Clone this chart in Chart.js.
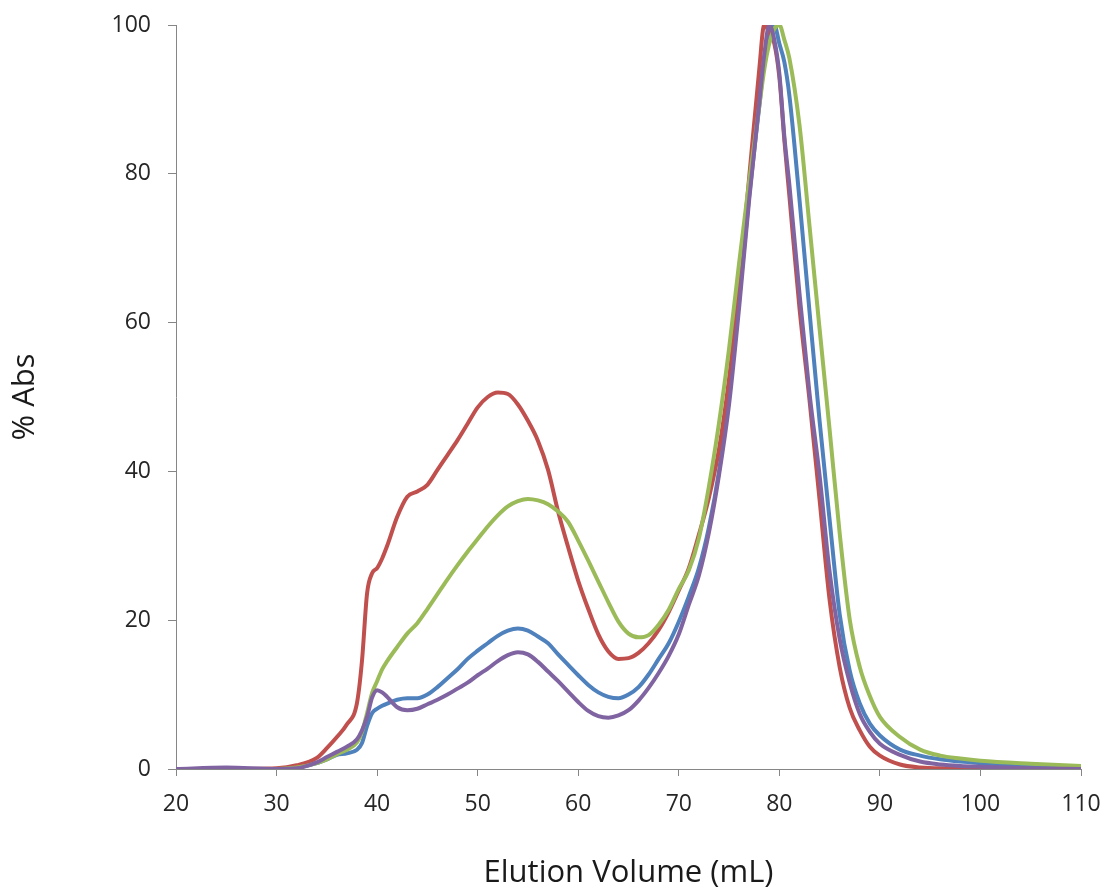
<!DOCTYPE html>
<html>
<head>
<meta charset="utf-8">
<title>Elution profile</title>
<script src="https://cdn.jsdelivr.net/npm/chart.js@4"></script>
<style>
  html, body { margin: 0; padding: 0; background: #fff; }
  #caja { width: 1106px; height: 892px; position: relative; }
</style>
</head>
<body>
<div id="caja"><canvas id="grafico"></canvas></div>
<script>
/*DATOS*/
const elution = [20, 25, 30, 32, 34, 35, 36, 37, 38, 38.5, 39, 39.5, 40, 40.5, 41,
  42, 43, 44, 45, 46, 47, 48, 49, 50, 51, 52, 53, 54, 55, 56, 57, 58, 59, 60,
  61, 62, 63, 64, 65, 66, 67, 68, 69, 70, 71, 72, 73, 74, 75, 76, 77, 78,
  78.5, 79, 79.5, 80, 80.5, 81, 82, 83, 84, 85, 86, 87, 88, 89, 90,
  92, 94, 96, 98, 100, 105, 110]

const absRed = [0, 0, 0.1, 0.5, 1.5, 2.8, 4.3, 6.0, 8.9, 14.6, 23.6, 26.3, 27.0, 28.3, 30.0,
  33.9, 36.6, 37.3, 38.2, 40.2, 42.2, 44.2, 46.4, 48.6, 50.0, 50.6, 50.4, 49.0, 46.8, 44.1, 40.2, 34.6, 29.8, 25.3,
  21.5, 18.1, 15.8, 14.8, 14.9, 15.6, 16.9, 18.7, 21.1, 24.0, 27.0, 31.5, 36.5, 43.0, 52.5, 65.0, 79.5, 94.0,
  100, 99.0, 97.5, 93.0, 84.5, 77.0, 62.0, 49.6, 36.2, 22.7, 13.7, 8.2, 5.2, 3.0, 1.8,
  0.6, 0.2, 0.1, 0.1, 0.05, 0, 0]

const absGreen = [0, 0, 0, 0.2, 0.8, 1.3, 2.0, 2.6, 3.6, 5.0, 7.5, 10.2, 11.8, 13.4, 14.5,
  16.4, 18.2, 19.6, 21.5, 23.5, 25.5, 27.4, 29.2, 30.9, 32.6, 34.1, 35.3, 36.0, 36.3, 36.1, 35.6, 34.6, 33.2, 30.7,
  28.0, 25.2, 22.4, 19.8, 18.2, 17.7, 18.0, 19.4, 21.4, 24.2, 26.7, 31.0, 38.0, 46.5, 56.5, 68.0, 79.0, 89.0,
  94.0, 97.5, 99.5, 100, 98.0, 95.5, 86.6, 73.0, 59.2, 45.6, 31.7, 20.1, 13.7, 9.8, 7.0,
  4.3, 2.6, 1.8, 1.4, 1.1, 0.7, 0.4]

const absBlue = [0, 0, 0, 0.2, 0.8, 1.3, 1.9, 2.1, 2.6, 3.5, 5.8, 7.5, 8.1, 8.5, 8.8,
  9.3, 9.5, 9.5, 10.0, 11.0, 12.2, 13.4, 14.8, 15.9, 16.9, 17.9, 18.6, 18.9, 18.6, 17.8, 16.9, 15.4, 14.0, 12.6,
  11.3, 10.3, 9.7, 9.5, 10.0, 11.0, 12.7, 14.8, 16.9, 19.8, 23.2, 27.0, 32.5, 40.0, 50.5, 63.0, 77.0, 89.0,
  95.0, 98.5, 100, 97.5, 95.0, 90.5, 76.6, 61.5, 46.8, 33.5, 20.8, 13.2, 8.8, 6.1, 4.5,
  2.6, 1.8, 1.3, 1.0, 0.8, 0.4, 0.2]

const absPurple = [0, 0.2, 0, 0.1, 0.9, 1.6, 2.3, 3.0, 4.0, 5.2, 7.0, 9.6, 10.6, 10.3, 9.7,
  8.3, 7.9, 8.1, 8.7, 9.3, 10.0, 10.8, 11.6, 12.6, 13.5, 14.5, 15.3, 15.7, 15.4, 14.4, 13.1, 11.8, 10.4, 9.0,
  7.8, 7.1, 6.9, 7.2, 7.9, 9.2, 10.9, 12.9, 15.2, 18.1, 22.1, 26.0, 31.8, 39.5, 49.0, 62.0, 76.5, 89.5,
  96.0, 100, 98.0, 93.5, 85.0, 78.5, 64.0, 50.5, 39.5, 26.5, 17.5, 11.6, 7.4, 5.0, 3.4,
  1.9, 1.0, 0.6, 0.4, 0.3, 0.1, 0]

const xTicks = [20, 30, 40, 50, 60, 70, 80, 90, 100, 110]
const yTicks = [0, 20, 40, 60, 80, 100]

/*FUNCIONES*/
function puntos (valores) {
  return elution.map((v, i) => ({ x: v, y: valores[i] }))
}

function serie (nombre, valores, color) {
  return {
    label: nombre,
    data: puntos(valores),
    borderColor: color,
    borderWidth: 4,
    pointRadius: 0,
    fill: false,
    cubicInterpolationMode: "monotone",
    borderJoinStyle: "round"
  }
}

const ejeGris = "#868686"
const fuente = "'Open Sans', 'DejaVu Sans', sans-serif"

// the first dataset is painted last (on top)
const datasets = [
  serie("Purple", absPurple, "#8064A2"),
  serie("Green", absGreen, "#9BBB59"),
  serie("Red", absRed, "#C0504D"),
  serie("Blue", absBlue, "#4F81BD")
]

new Chart(document.querySelector("#grafico"), {
  type: "line",
  data: { datasets },
  options: {
    responsive: true,
    maintainAspectRatio: false,
    devicePixelRatio: 1,
    animation: false,
    layout: { padding: { left: 0, top: 25, right: 25, bottom: 0 } },
    plugins: { legend: { display: false }, tooltip: { enabled: false } },
    scales: {
      x: {
        type: "linear",
        min: xTicks[0],
        max: xTicks[xTicks.length - 1],
        afterBuildTicks: (eje) => { eje.ticks = xTicks.map((v) => ({ value: v })) },
        afterFit: (eje) => {
          eje.height = 123
          eje.paddingLeft = 0
          eje.paddingRight = 0
        },
        ticks: { color: "#262626", padding: 15, font: { family: fuente, size: 23 } },
        grid: { drawOnChartArea: false, drawTicks: true, tickLength: 7, color: ejeGris },
        border: { color: ejeGris, width: 1 },
        title: {
          display: true,
          text: "Elution Volume (mL)",
          color: "#1a1a1a",
          padding: { top: 0, bottom: 0 },
          font: { family: fuente, size: 31 }
        }
      },
      y: {
        min: yTicks[0],
        max: yTicks[yTicks.length - 1],
        afterBuildTicks: (eje) => { eje.ticks = yTicks.map((v) => ({ value: v })) },
        afterFit: (eje) => {
          eje.width = 176
          eje.paddingTop = 0
          eje.paddingBottom = 0
        },
        ticks: { color: "#262626", padding: 17, font: { family: fuente, size: 23 } },
        grid: { drawOnChartArea: false, drawTicks: true, tickLength: 8, color: ejeGris },
        border: { color: ejeGris, width: 1 },
        title: {
          display: true,
          text: "% Abs",
          color: "#1a1a1a",
          padding: { top: 7, bottom: 0 },
          font: { family: fuente, size: 31 }
        }
      }
    }
  }
})
</script>
</body>
</html>
